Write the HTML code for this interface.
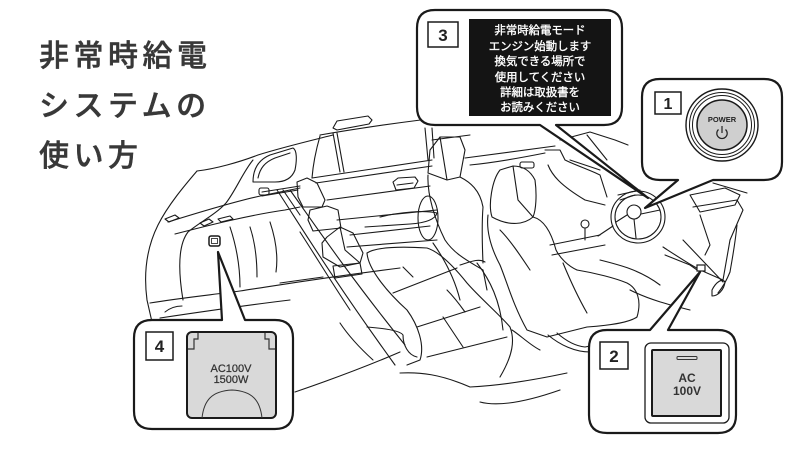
<!DOCTYPE html>
<html><head><meta charset="utf-8"><style>
html,body{margin:0;padding:0;background:#fff;}
svg{display:block;}
</style></head><body>
<svg width="800" height="450" viewBox="0 0 800 450" xmlns="http://www.w3.org/2000/svg">
<rect width="800" height="450" fill="#fff"/>
<!-- Title -->
<g font-family="'Liberation Sans','Noto Sans CJK JP',sans-serif" font-size="30" font-weight="500" fill="#383838" stroke="#383838" stroke-width="0.45" letter-spacing="4.5">
<text x="39" y="66">非常時給電</text>
<text x="39" y="116">システムの</text>
<text x="39" y="166">使い方</text>
</g>

<!-- Line art -->
<g fill="none" stroke="#1a1a1a" stroke-width="1.1" stroke-linejoin="round" stroke-linecap="round">
<!-- left body -->
<path d="M197,171 C185,185 168,205 158,225 C148,245 143,270 147,300 L152,322"/>
<path d="M197,171 C215,169 240,162 258,155 C280,148 305,142 333,135"/>
<path d="M253,160 C243,172 236,190 226,203 C215,215 200,222 188,232 C178,245 178,270 183,300"/>
<path d="M168,222 C200,212 240,200 265,195 L300,188"/>
<path d="M175,234 C210,225 250,215 285,210 L300,207"/>
<path d="M165,219 l10,-4 l4,3 l-10,4 z"/>
<path d="M200,223 l9,-4 l4,3 l-9,4 z"/>
<path d="M218,219 l12,-3 l3,3 l-12,3 z"/>
<path d="M230,227 C236,245 240,265 240,287"/>
<path d="M250,227 C256,245 257,262 257,277"/>
<path d="M270,222 C276,240 278,258 276,272"/>
<path d="M150,303 C180,298 210,295 240,291 C280,285 320,278 400,268"/>
<path d="M295,392 C330,380 370,365 400,352"/>
<path d="M160,318 C200,312 240,306 290,300"/>
<path d="M165,312 C170,308 176,306 182,306"/>
<path d="M253,182 C253,170 258,160 270,155 L293,148 C297,150 297,160 295,170 C292,178 285,182 275,182 Z"/>
<path d="M258,178 C260,168 265,162 275,158 L290,153"/>
<path d="M262,192 L300,186 M262,196 L298,190"/>
<rect x="259" y="188" width="10" height="7" rx="2"/>
<!-- roof/door -->
<path d="M320,135 C360,128 400,122 470,114"/>
<path d="M320,136 C316,150 313,165 312,178"/>
<path d="M333,133 L340,172 M337,133 L344,172"/>
<path d="M312,178 L432,160 M316,183 L432,166"/>
<path d="M333,128 L337,121 L368,116 L372,120 L369,124 L337,130 Z"/>
<path d="M393,182 L398,178 L415,177 L418,181 L414,188 L396,190 Z M397,185 L413,183"/>
<path d="M327,200 L430,186 M337,220 L437,210"/>
<path d="M380,217 C400,212 425,210 437,213 C435,220 425,223 410,224 L365,227"/>
<path d="M347,247 L437,240"/>
<path d="M350,235 L430,226"/>
<ellipse cx="428" cy="218" rx="10" ry="22"/>
<path d="M425,128 L428,160 M432,128 L434,158 M432,140 L470,135"/>
<!-- rear headrests -->
<path d="M297,182 L307,178 L317,183 L325,200 L322,207 L303,207 L298,197 Z"/>
<path d="M310,210 L327,206 L338,210 L341,228 L313,231 L308,220 Z"/>
<path d="M327,237 L340,227 L353,233 L363,253 L360,263 L340,267 L323,257 L322,243 Z"/>
<path d="M340,227 L345,250 L360,263"/>
<!-- tunnel -->
<path d="M277,190 C300,225 330,275 395,365"/>
<path d="M290,190 C315,225 345,270 405,345"/>
<path d="M283,190 L300,215"/>
<path d="M300,232 C315,255 330,280 350,310"/>
<path d="M333,266 L360,263 L362,274 L335,278 Z"/>
<path d="M323,277 L280,283"/>
<!-- rear seat -->
<path d="M367,253 C375,248 395,246 427,248 C440,252 455,268 467,283 C480,298 500,315 510,327 C515,340 513,355 500,377"/>
<path d="M367,253 C368,268 385,290 407,310 C418,325 425,345 420,360 L407,365"/>
<path d="M367,327 C380,328 400,330 403,335 C403,345 408,355 417,357"/>
<path d="M400,373 C420,372 440,374 470,387 C490,386 520,383 567,373"/>
<path d="M393,293 L457,268 M417,327 L480,307 M427,357 L507,337 M403,267 L413,277 M443,317 L463,347 M447,290 C455,298 460,305 465,312"/>
<path d="M480,402 C495,406 520,404 560,390"/>
<path d="M340,323 C350,338 362,350 373,360"/>
<path d="M460,265 C470,262 478,258 485,262"/>
<path d="M512,330 C520,335 530,345 540,350"/>
<!-- front-left seat -->
<path d="M428,173 L430,150 L440,137 L460,137 L465,150 L460,177 L447,180 Z"/>
<path d="M428,175 C427,195 435,220 445,240 C455,255 470,262 483,270 L487,290"/>
<path d="M460,177 C470,182 480,190 483,207 C482,220 482,240 483,263"/>
<path d="M477,263 C490,280 500,300 503,330"/>
<path d="M433,243 C445,260 455,280 460,300"/>
<path d="M440,137 L447,180"/>
<!-- front-center seat -->
<path d="M492,217 C488,205 492,180 500,170 L513,166 C522,166 530,170 535,180 C537,195 536,210 533,217 C525,224 510,227 492,217 Z"/>
<path d="M488,215 C486,232 492,250 500,265 C507,282 513,305 527,330 L547,337"/>
<path d="M533,217 C545,220 552,235 556,250 C560,258 568,266 577,270"/>
<path d="M577,270 C595,273 615,278 627,283 C637,288 642,300 637,317 C630,322 615,325 587,327 L547,337"/>
<path d="M563,263 C568,275 575,292 587,313"/>
<path d="M557,333 C565,340 575,346 585,347 C592,346 597,342 600,340"/>
<path d="M548,335 C560,345 575,352 590,352"/>
<path d="M500,230 C510,240 520,255 530,270"/>
<path d="M513,166 L518,200 L533,217"/>
<!-- console/dash -->
<path d="M550,245 L600,235 M552,255 L605,245"/>
<circle cx="585" cy="224" r="4"/>
<path d="M585,228 L585,240"/>
<path d="M465,158 L555,146 M470,165 C500,162 530,156 545,153"/>
<path d="M545,150 L560,150 L565,160 C575,165 590,170 600,175 L607,197"/>
<path d="M548,165 C552,175 560,185 585,200 L605,205"/>
<rect x="520" y="162" width="14" height="6" rx="2"/>
<path d="M560,140 L590,132 L615,140 L628,145"/>
<path d="M587,135 L607,160 M570,160 L600,170"/>
<!-- steering -->
<ellipse cx="638" cy="217" rx="27" ry="26"/>
<ellipse cx="638" cy="217" rx="23" ry="22"/>
<circle cx="634" cy="212" r="7"/>
<path d="M616,222 L627,215 M641,214 L660,210 M634,219 L636,238"/>
<path d="M613,226 L598,236"/>
<path d="M618,195 L640,190 M620,200 L635,195"/>
<!-- right side -->
<path d="M693,207 L737,200 L743,210 L730,240 L723,280"/>
<path d="M683,240 L723,282"/>
<path d="M713,183 L747,193"/>
<path d="M690,195 L725,188 L740,195 L735,205 L700,212 Z"/>
<path d="M700,215 L710,245 L705,255"/>
<path d="M663,247 C680,258 695,268 707,273 L723,280"/>
<path d="M600,260 C620,265 640,270 660,285"/>
<path d="M630,290 C650,300 670,305 690,310"/>
<path d="M737,225 C735,245 732,260 730,272 C726,282 722,288 718,293"/>
<path d="M712,290 C716,282 722,278 725,282 C724,290 718,296 712,296 Z"/>
<path d="M665,255 L690,265 L700,272"/>
<path d="M640,337 L640,360"/>
</g>
<!-- outlet 4 square -->
<rect x="209" y="236" width="11" height="10" rx="2" fill="#fff" stroke="#1a1a1a" stroke-width="1.5"/>
<rect x="211.5" y="238.5" width="6" height="5" fill="none" stroke="#1a1a1a" stroke-width="0.8"/>
<rect x="697" y="265" width="8" height="6" fill="#fff" stroke="#1a1a1a" stroke-width="1.2"/>

<!-- Callouts -->
<g fill="#fff" stroke="#1a1a1a" stroke-width="2.2" stroke-linejoin="round">
<path d="M435,10 H604 Q622,10 622,28 V107 Q622,125 604,125 H556 L648,198 L540,125 H435 Q417,125 417,107 V28 Q417,10 435,10 Z"/>
<path d="M660,79 H764 Q782,79 782,97 V162 Q782,180 764,180 H713 L645,208 L678,180 H660 Q642,180 642,162 V97 Q642,79 660,79 Z"/>
<path d="M607,330 H650 L700,272 L668,330 H718 Q736,330 736,348 V415 Q736,433 718,433 H607 Q589,433 589,415 V348 Q589,330 607,330 Z"/>
<path d="M152,320 H222 L218,252 L245,320 H275 Q293,320 293,338 V411 Q293,429 275,429 H152 Q134,429 134,411 V338 Q134,320 152,320 Z"/>
</g>

<!-- Callout 3 content -->
<rect x="428" y="22" width="30" height="25" fill="#fff" stroke="#1a1a1a" stroke-width="1.5"/>
<text x="443" y="41" text-anchor="middle" font-family="'Liberation Sans',sans-serif" font-size="17" font-weight="bold" fill="#222">3</text>
<rect x="469" y="19" width="142" height="97" fill="#141414"/>
<g font-family="'Liberation Sans','Noto Sans CJK JP',sans-serif" font-size="11.4" fill="#fff" stroke="#fff" stroke-width="0.35" text-anchor="middle">
<text x="540" y="34">非常時給電モード</text>
<text x="540" y="50">エンジン始動します</text>
<text x="540" y="65">換気できる場所で</text>
<text x="540" y="81">使用してください</text>
<text x="540" y="96">詳細は取扱書を</text>
<text x="540" y="111">お読みください</text>
</g>

<!-- Callout 1 content -->
<rect x="655" y="92" width="26" height="22" fill="#fff" stroke="#1a1a1a" stroke-width="1.5"/>
<text x="668" y="109" text-anchor="middle" font-family="'Liberation Sans',sans-serif" font-size="16" font-weight="bold" fill="#222">1</text>
<circle cx="722" cy="125" r="36" fill="#fff" stroke="#1a1a1a" stroke-width="1.4"/>
<circle cx="722" cy="125" r="32.5" fill="none" stroke="#1a1a1a" stroke-width="1"/>
<circle cx="722" cy="125" r="29.5" fill="none" stroke="#1a1a1a" stroke-width="1"/>
<circle cx="722" cy="125" r="25" fill="#cfcfcf" stroke="#1a1a1a" stroke-width="1.5"/>
<text x="722" y="122" text-anchor="middle" font-family="'Liberation Sans',sans-serif" font-size="7.5" font-weight="bold" fill="#222">POWER</text>
<path d="M718.5,129.5 A5.2,5.2 0 1 0 725.5,129.5" fill="none" stroke="#222" stroke-width="1.2"/>
<path d="M722,126 L722,133" stroke="#222" stroke-width="1.2"/>

<!-- Callout 2 content -->
<rect x="600" y="342" width="28" height="27" fill="#fff" stroke="#1a1a1a" stroke-width="1.5"/>
<text x="614" y="362" text-anchor="middle" font-family="'Liberation Sans',sans-serif" font-size="17" font-weight="bold" fill="#222">2</text>
<rect x="645" y="343" width="84" height="80" rx="6" fill="#fff" stroke="#1a1a1a" stroke-width="1.3"/>
<rect x="652" y="350" width="69" height="66" rx="1" fill="#d9d9d9" stroke="#1a1a1a" stroke-width="2"/>
<rect x="677" y="356.5" width="20" height="3" rx="1" fill="none" stroke="#333" stroke-width="1"/>
<g font-family="'Liberation Sans',sans-serif" font-size="12" font-weight="bold" fill="#333" text-anchor="middle">
<text x="687" y="382">AC</text>
<text x="687" y="395">100V</text>
</g>

<!-- Callout 4 content -->
<rect x="146" y="332" width="27" height="28" fill="#fff" stroke="#1a1a1a" stroke-width="1.5"/>
<text x="159.5" y="352" text-anchor="middle" font-family="'Liberation Sans',sans-serif" font-size="17" font-weight="bold" fill="#222">4</text>
<rect x="187" y="332" width="89" height="86" rx="5" fill="#d9d9d9" stroke="#1a1a1a" stroke-width="2"/>
<path d="M188,349 L194,349 L194,339 L198,339 L198,333" fill="none" stroke="#333" stroke-width="1.2"/>
<path d="M275,349 L269,349 L269,339 L265,339 L265,333" fill="none" stroke="#333" stroke-width="1.2"/>
<g font-family="'Liberation Sans',sans-serif" font-size="11" fill="#333" stroke="#333" stroke-width="0.25" text-anchor="middle">
<text x="231" y="372">AC100V</text>
<text x="231" y="383">1500W</text>
</g>
<path d="M202,418 C204,400 212,391 232,390 C252,391 260,400 262,418" fill="none" stroke="#333" stroke-width="1"/>
</svg>
</body></html>
